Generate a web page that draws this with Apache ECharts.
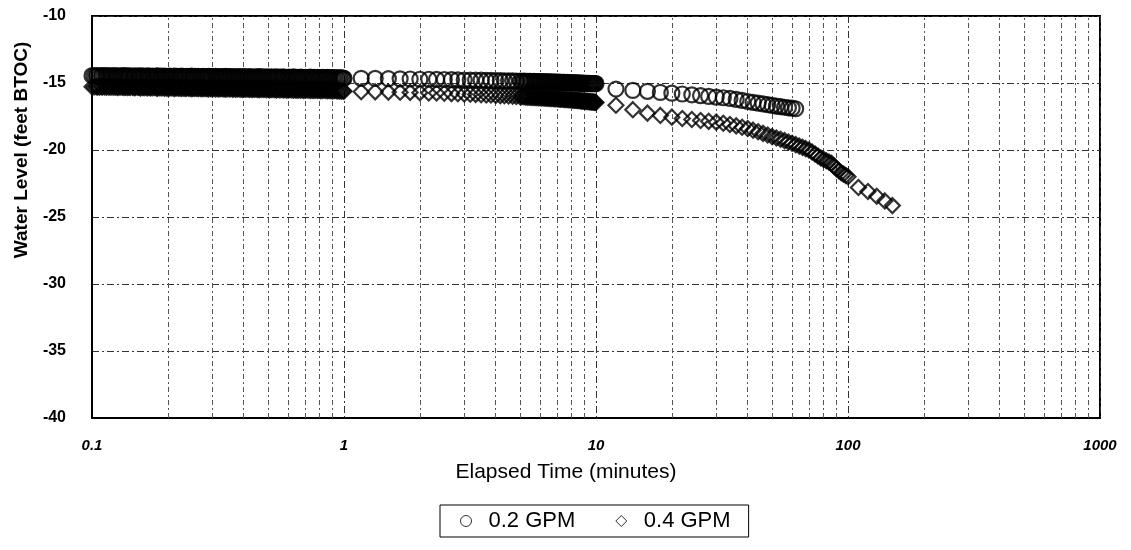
<!DOCTYPE html>
<html>
<head>
<meta charset="utf-8">
<script src="https://cdn.jsdelivr.net/npm/echarts@6/dist/echarts.min.js"></script>
<style>
  html, body { margin: 0; padding: 0; background: #fff; }
  #chart { width: 1131px; height: 550px; }
</style>
</head>
<body>
<div id="chart"></div>
<script>
// elapsed time (minutes) - fast logging from 0.1 to 1 min
const earlyTimes = [
  0.100, 0.102, 0.104, 0.105, 0.107, 0.109, 0.110, 0.112, 0.114, 0.116,
  0.118, 0.120, 0.122, 0.124, 0.126, 0.128, 0.130, 0.132, 0.134, 0.136,
  0.138, 0.140, 0.142, 0.145, 0.147, 0.149, 0.152, 0.154, 0.156, 0.159,
  0.161, 0.164, 0.166, 0.169, 0.171, 0.174, 0.177, 0.180, 0.182, 0.185,
  0.188, 0.191, 0.194, 0.197, 0.200, 0.203, 0.206, 0.210, 0.213, 0.216,
  0.220, 0.223, 0.226, 0.230, 0.234, 0.237, 0.241, 0.245, 0.249, 0.252,
  0.256, 0.260, 0.264, 0.269, 0.273, 0.277, 0.281, 0.286, 0.290, 0.295,
  0.299, 0.304, 0.309, 0.314, 0.319, 0.324, 0.329, 0.334, 0.339, 0.344,
  0.350, 0.355, 0.361, 0.366, 0.372, 0.378, 0.384, 0.390, 0.396, 0.402,
  0.408, 0.415, 0.421, 0.428, 0.434, 0.441, 0.448, 0.455, 0.462, 0.469,
  0.477, 0.484, 0.492, 0.500, 0.507, 0.515, 0.523, 0.532, 0.540, 0.548,
  0.557, 0.566, 0.574, 0.583, 0.593, 0.602, 0.611, 0.621, 0.631, 0.641,
  0.651, 0.661, 0.671, 0.682, 0.692, 0.703, 0.714, 0.726, 0.737, 0.749,
  0.760, 0.772, 0.785, 0.797, 0.809, 0.822, 0.835, 0.848, 0.862, 0.875,
  0.889, 0.903, 0.917, 0.932, 0.946, 0.961, 0.976, 0.992, 1.000
];
// 1 to 5 min every 10 s, 5 to 10 min every 5 s
const midTimes = [
  1.17, 1.33, 1.5, 1.67, 1.83,
  2.0, 2.17, 2.33, 2.5, 2.67, 2.83,
  3.0, 3.17, 3.33, 3.5, 3.67, 3.83,
  4.0, 4.17, 4.33, 4.5, 4.67, 4.83,
  5.0, 5.08, 5.17, 5.25, 5.33, 5.42, 5.5, 5.58, 5.67, 5.75, 5.83, 5.92,
  6.0, 6.08, 6.17, 6.25, 6.33, 6.42, 6.5, 6.58, 6.67, 6.75, 6.83, 6.92,
  7.0, 7.08, 7.17, 7.25, 7.33, 7.42, 7.5, 7.58, 7.67, 7.75, 7.83, 7.92,
  8.0, 8.08, 8.17, 8.25, 8.33, 8.42, 8.5, 8.58, 8.67, 8.75, 8.83, 8.92,
  9.0, 9.08, 9.17, 9.25, 9.33, 9.42, 9.5, 9.58, 9.67, 9.75, 9.83, 9.92,
  10.0
];
// after 10 min, 2 minute readings
const lateTimes02 = [
  12, 14, 16, 18, 20, 22, 24, 26, 28, 30, 32, 34, 36,
  38, 40, 42, 44, 46, 48, 50, 52, 54, 56, 58, 60, 62
];
const lateTimes04 = [
  12, 14, 16, 18, 20, 22, 24, 26, 28, 30, 32, 34, 36, 38, 40,
  42, 44, 46, 48, 50, 52, 54, 56, 58, 60, 62, 64, 66, 68, 70,
  72, 74, 76, 78, 80, 82, 84, 86, 88, 90, 92, 94, 96, 98, 100,
  110, 120, 130, 140, 150
];

// water level (feet BTOC), 0.2 GPM
const early02 = [
  -14.45, -14.47, -14.44, -14.46, -14.48, -14.45, -14.47, -14.46, -14.44, -14.47,
  -14.46, -14.48, -14.45, -14.47, -14.49, -14.46, -14.48, -14.47, -14.45, -14.48,
  -14.47, -14.49, -14.46, -14.48, -14.5, -14.47, -14.49, -14.48, -14.46, -14.49,
  -14.48, -14.5, -14.47, -14.49, -14.51, -14.48, -14.5, -14.49, -14.47, -14.5,
  -14.49, -14.51, -14.48, -14.5, -14.52, -14.49, -14.51, -14.5, -14.48, -14.51,
  -14.5, -14.52, -14.49, -14.51, -14.53, -14.5, -14.52, -14.51, -14.49, -14.52,
  -14.51, -14.53, -14.5, -14.52, -14.54, -14.51, -14.53, -14.52, -14.5, -14.53,
  -14.52, -14.54, -14.51, -14.53, -14.55, -14.52, -14.54, -14.53, -14.51, -14.54,
  -14.53, -14.55, -14.52, -14.54, -14.56, -14.53, -14.55, -14.54, -14.52, -14.55,
  -14.54, -14.56, -14.53, -14.55, -14.57, -14.54, -14.56, -14.55, -14.53, -14.56,
  -14.55, -14.57, -14.54, -14.56, -14.58, -14.55, -14.57, -14.56, -14.54, -14.57,
  -14.56, -14.58, -14.55, -14.57, -14.59, -14.56, -14.58, -14.57, -14.55, -14.58,
  -14.57, -14.59, -14.56, -14.58, -14.6, -14.57, -14.59, -14.58, -14.56, -14.59,
  -14.58, -14.6, -14.57, -14.59, -14.61, -14.58, -14.6, -14.59, -14.57, -14.6,
  -14.6, -14.62, -14.59, -14.61, -14.63, -14.6, -14.62, -14.64, -14.65
];
const mid02 = [
  -14.65, -14.66, -14.68, -14.69, -14.7,
  -14.72, -14.72, -14.73, -14.74, -14.75, -14.76,
  -14.78, -14.78, -14.78, -14.79, -14.81, -14.81,
  -14.82, -14.82, -14.84, -14.84, -14.84, -14.86,
  -14.86, -14.87, -14.86, -14.87, -14.88, -14.87, -14.88, -14.89, -14.88, -14.89, -14.9, -14.89,
  -14.9, -14.91, -14.9, -14.91, -14.92, -14.91, -14.92, -14.93, -14.92, -14.93, -14.94, -14.93,
  -14.94, -14.95, -14.94, -14.95, -14.96, -14.95, -14.96, -14.97, -14.96, -14.97, -14.98, -14.97,
  -14.98, -14.99, -14.98, -14.99, -15.0, -14.99, -15.0, -15.01, -15.0, -15.01, -15.02, -15.01,
  -15.02, -15.03, -15.02, -15.03, -15.04, -15.03, -15.04, -15.05, -15.04, -15.05, -15.05, -15.04,
  -15.05
];
const late02 = [
  -15.45, -15.55, -15.62, -15.7, -15.76, -15.82, -15.88, -15.94, -16.0, -16.05,
  -16.1, -16.15, -16.22, -16.3, -16.38, -16.44, -16.5, -16.56, -16.62, -16.67,
  -16.72, -16.77, -16.81, -16.85, -16.88, -16.92
];

// water level (feet BTOC), 0.4 GPM
const early04 = [
  -15.28, -15.3, -15.27, -15.29, -15.31, -15.28, -15.3, -15.29, -15.31, -15.3,
  -15.31, -15.29, -15.32, -15.3, -15.33, -15.31, -15.3, -15.32, -15.34, -15.31,
  -15.33, -15.31, -15.34, -15.32, -15.35, -15.33, -15.32, -15.34, -15.36, -15.33,
  -15.35, -15.33, -15.36, -15.34, -15.37, -15.35, -15.34, -15.36, -15.38, -15.35,
  -15.37, -15.35, -15.38, -15.36, -15.39, -15.37, -15.36, -15.38, -15.4, -15.37,
  -15.39, -15.37, -15.4, -15.38, -15.41, -15.39, -15.38, -15.4, -15.42, -15.39,
  -15.41, -15.39, -15.42, -15.4, -15.43, -15.41, -15.4, -15.42, -15.44, -15.41,
  -15.43, -15.41, -15.44, -15.42, -15.45, -15.43, -15.42, -15.44, -15.46, -15.43,
  -15.45, -15.43, -15.46, -15.44, -15.47, -15.45, -15.44, -15.46, -15.48, -15.45,
  -15.47, -15.45, -15.48, -15.46, -15.49, -15.47, -15.46, -15.48, -15.5, -15.47,
  -15.49, -15.47, -15.5, -15.48, -15.51, -15.49, -15.48, -15.5, -15.52, -15.49,
  -15.51, -15.49, -15.52, -15.5, -15.53, -15.51, -15.5, -15.52, -15.54, -15.51,
  -15.53, -15.51, -15.54, -15.52, -15.55, -15.53, -15.52, -15.54, -15.56, -15.53,
  -15.55, -15.53, -15.56, -15.54, -15.57, -15.55, -15.54, -15.56, -15.58, -15.56,
  -15.57, -15.59, -15.56, -15.58, -15.6, -15.59, -15.61, -15.6, -15.62
];
const mid04 = [
  -15.65, -15.66, -15.68, -15.69, -15.7,
  -15.72, -15.74, -15.75, -15.77, -15.79, -15.8,
  -15.82, -15.84, -15.85, -15.87, -15.89, -15.9,
  -15.92, -15.94, -15.95, -15.97, -15.99, -16.0,
  -16.02, -16.02, -16.03, -16.04, -16.05, -16.05, -16.06, -16.07, -16.07, -16.08, -16.09, -16.09,
  -16.1, -16.11, -16.11, -16.12, -16.13, -16.13, -16.14, -16.15, -16.15, -16.16, -16.17, -16.17,
  -16.18, -16.19, -16.19, -16.2, -16.21, -16.21, -16.22, -16.23, -16.23, -16.24, -16.25, -16.25,
  -16.26, -16.27, -16.28, -16.28, -16.29, -16.3, -16.31, -16.31, -16.32, -16.33, -16.34, -16.34,
  -16.35, -16.36, -16.37, -16.37, -16.38, -16.39, -16.4, -16.41, -16.42, -16.42, -16.43, -16.44,
  -16.45
];
const late04 = [
  -16.66, -16.99, -17.25, -17.42, -17.55, -17.65, -17.72, -17.8, -17.86, -17.92,
  -18.0, -18.1, -18.2, -18.3, -18.4, -18.52, -18.64, -18.76, -18.88, -19.0,
  -19.1, -19.2, -19.3, -19.4, -19.5, -19.6, -19.7, -19.8, -19.9, -20.0,
  -20.15, -20.3, -20.45, -20.6, -20.7, -20.8, -20.9, -21.0, -21.2, -21.4,
  -21.55, -21.7, -21.8, -21.9, -22.0,
  -22.8, -23.1, -23.45, -23.8, -24.15
];

const xTicks = [0.1, 1, 10, 100, 1000];
const minorGrid = [
  0.2, 0.3, 0.4, 0.5, 0.6, 0.7, 0.8, 0.9,
  2, 3, 4, 5, 6, 7, 8, 9,
  20, 30, 40, 50, 60, 70, 80, 90,
  200, 300, 400, 500, 600, 700, 800, 900
];

function pairs(times, levels) {
  return times.map((t, i) => [t, levels[i]]);
}
const data02 = pairs(earlyTimes, early02).concat(pairs(midTimes, mid02), pairs(lateTimes02, late02));
const data04 = pairs(earlyTimes, early04).concat(pairs(midTimes, mid04), pairs(lateTimes04, late04));

const font = "'Liberation Sans', Arial, sans-serif";
const gridLine = { color: "#333", width: 1, type: [7, 3, 2, 3] };
const markerStyle = { color: "rgba(0,0,0,0)", borderColor: "#000", borderWidth: 2.2 };

const chart = echarts.init(document.getElementById("chart"));
chart.setOption({
  animation: false,
  backgroundColor: "#fff",
  grid: {
    left: 92, right: 31, top: 16, bottom: 132,
    show: true, borderColor: "#000", borderWidth: 2
  },
  legend: {
    data: ["0.2 GPM", "0.4 GPM"],
    left: 440,
    top: 505,
    orient: "horizontal",
    borderColor: "#000",
    borderWidth: 1,
    padding: [5, 18, 5, 20],
    itemGap: 40,
    itemWidth: 11,
    itemHeight: 11,
    itemStyle: { borderWidth: 1 },
    textStyle: { fontFamily: font, fontSize: 22, color: "#000", padding: [0, 0, 0, 12] }
  },
  xAxis: {
    type: "log",
    logBase: 10,
    min: 0.1,
    max: 1000,
    name: "Elapsed Time (minutes)",
    nameLocation: "middle",
    nameGap: 44,
    nameTextStyle: { fontFamily: font, fontSize: 21, color: "#000", padding: [0, 60, 0, 0] },
    axisLine: { lineStyle: { color: "#000", width: 2 } },
    axisTick: { show: false },
    axisLabel: {
      margin: 20,
      fontFamily: font, fontSize: 15, fontWeight: "bold", fontStyle: "italic", color: "#000",
      formatter: v => String(xTicks.find(t => Math.abs(t - v) / t < 1e-6) ?? v)
    },
    splitLine: { show: true, lineStyle: gridLine }
  },
  yAxis: {
    type: "value",
    min: -40,
    max: -10,
    interval: 5,
    name: "Water Level (feet BTOC)",
    nameLocation: "middle",
    nameGap: 61,
    nameTextStyle: {
      fontFamily: font, fontSize: 19, fontWeight: "bold", color: "#000",
      padding: [0, 0, 0, 134]
    },
    axisLine: { show: true, lineStyle: { color: "#000", width: 2 } },
    axisTick: { show: false },
    axisLabel: { margin: 26, fontFamily: font, fontSize: 16, fontWeight: "bold", color: "#000" },
    splitLine: { show: true, lineStyle: gridLine }
  },
  series: [
    {
      name: "0.2 GPM",
      type: "scatter",
      symbol: "circle",
      symbolSize: 15,
      itemStyle: markerStyle,
      data: data02
    },
    {
      name: "0.4 GPM",
      type: "scatter",
      symbol: "diamond",
      symbolSize: 15,
      itemStyle: markerStyle,
      data: data04,
      markLine: {
        silent: true,
        z: 1,
        symbol: "none",
        label: { show: false },
        lineStyle: { color: "#555", width: 1, type: [5, 3, 2, 3] },
        data: minorGrid.map(v => ({ xAxis: v }))
      }
    }
  ]
});
</script>
</body>
</html>
